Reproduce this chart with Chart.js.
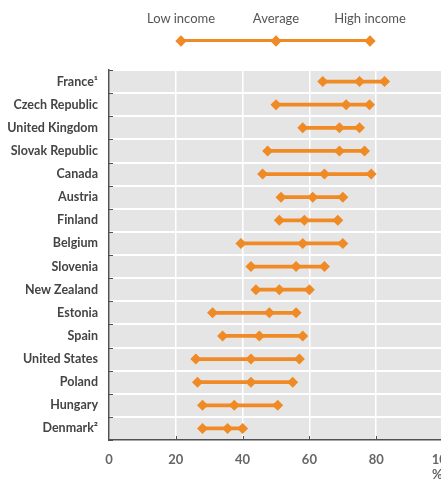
<!DOCTYPE html>
<html>
<head>
<meta charset="utf-8">
<script src="https://cdn.jsdelivr.net/npm/chart.js@4"></script>
<style>
  html, body { margin: 0; padding: 0; background: #fff; overflow: hidden; width: 441px; height: 481px; }
  #wrap { position: absolute; left: 0; top: 0; width: 470px; height: 481px; }
  .key { position: absolute; top: 10px; transform: translateX(-50%); white-space: nowrap;
         font-family: Lato, sans-serif; font-size: 13px; color: #555; }
  #keyline { position: absolute; left: 181px; top: 39px; width: 189px; height: 3px; background: #F08A24; }
  .dia { position: absolute; width: 8px; height: 8px; background: #F08A24; transform: translate(-50%, -50%) rotate(45deg); top: 40.5px; }
  #unit { position: absolute; left: 432px; top: 466px; font-family: Lato, sans-serif; font-size: 13px; font-weight: bold; color: #666; }
</style>
</head>
<body>
<div id="wrap"><canvas id="c"></canvas></div>
<div class="key" style="left:181px">Low income</div>
<div class="key" style="left:276px">Average</div>
<div class="key" style="left:370px">High income</div>
<div id="keyline"></div>
<div class="dia" style="left:181px"></div>
<div class="dia" style="left:276px"></div>
<div class="dia" style="left:370px"></div>
<div id="unit">%</div>
<script>
const countries = ["France\u00B9", "Czech Republic", "United Kingdom", "Slovak Republic", "Canada", "Austria",
  "Finland", "Belgium", "Slovenia", "New Zealand", "Estonia", "Spain", "United States", "Poland",
  "Hungary", "Denmark\u00B2"];
const lowIncome  = [64, 50, 58, 47.5, 46, 51.5, 51, 39.5, 42.5, 44, 31, 34, 26, 26.5, 28, 28];
const average    = [75, 71, 69, 69, 64.5, 61, 58.5, 58, 56, 51, 48, 45, 42.5, 42.5, 37.5, 35.5];
const highIncome = [82.5, 78, 75, 76.5, 78.5, 70, 68.5, 70, 64.5, 60, 56, 58, 57, 55, 50.5, 40];
const xTicks = [0, 20, 40, 60, 80, 100];

const ORANGE = '#F08A24';
const AXIS = '#505050';
const FONT = 'Lato, sans-serif';

// Grey panel behind the plot and short inward tick marks on both axes
const panel = {
  id: 'panel',
  beforeDraw(chart) {
    const { ctx, chartArea: a } = chart;
    ctx.save();
    ctx.fillStyle = '#E5E5E6';
    ctx.fillRect(a.left, a.top, a.right - a.left, a.bottom - a.top);
    ctx.restore();
  },
  afterDatasetsDraw(chart) {
    const { ctx, chartArea: a, scales } = chart;
    ctx.save();
    ctx.strokeStyle = AXIS;
    ctx.lineWidth = 1;
    const y = scales.y;
    const half = (y.getPixelForTick(1) - y.getPixelForTick(0)) / 2;
    ctx.beginPath();
    for (let i = 0; i <= countries.length; i++) {
      const py = Math.round(y.getPixelForTick(0) - half + i * 2 * half) + 0.5;
      ctx.moveTo(a.left, py);
      ctx.lineTo(a.left + 4, py);
    }
    const x = scales.x;
    xTicks.slice(1, -1).forEach(v => {
      const px = Math.round(x.getPixelForValue(v)) + 0.5;
      ctx.moveTo(px, a.bottom);
      ctx.lineTo(px, a.bottom - 4);
    });
    ctx.stroke();
    ctx.restore();
  }
};

const markers = (data) => ({
  type: 'line',
  indexAxis: 'y',
  data: data,
  showLine: false,
  pointStyle: 'rectRot',
  pointRadius: 5.5,
  pointHoverRadius: 5.5,
  pointBackgroundColor: ORANGE,
  pointBorderColor: ORANGE,
  pointBorderWidth: 0
});

new Chart(document.getElementById('c'), {
  type: 'bar',
  data: {
    labels: countries,
    datasets: [
      {
        type: 'bar',
        data: lowIncome.map((l, i) => [l, highIncome[i]]),
        backgroundColor: ORANGE,
        barThickness: 3,
        borderSkipped: false
      },
      markers(lowIncome),
      markers(average),
      markers(highIncome)
    ]
  },
  options: {
    indexAxis: 'y',
    responsive: true,
    maintainAspectRatio: false,
    animation: false,
    events: [],
    layout: { padding: { top: 70, right: 27, left: 0, bottom: 0 } },
    plugins: { legend: { display: false }, tooltip: { enabled: false } },
    scales: {
      x: {
        type: 'linear',
        min: 0,
        max: 100,
        afterBuildTicks(scale) { scale.ticks = xTicks.map(v => ({ value: v })); },
        grid: { color: '#fff', lineWidth: 1.5, drawTicks: false },
        border: { display: true, color: AXIS, width: 1.5 },
        ticks: { padding: 12, color: '#666', font: { family: FONT, size: 13, weight: 'bold' } },
        afterFit(scale) { scale.height = 41; }
      },
      y: {
        type: 'category',
        offset: true,
        grid: { color: '#fff', lineWidth: 2, drawTicks: false, offset: true },
        border: { display: true, color: AXIS, width: 1.5 },
        ticks: { padding: 11, color: '#444', font: { family: FONT, size: 12.5, weight: 'bold' } },
        afterFit(scale) { scale.width = 109; }
      }
    }
  },
  plugins: [panel]
});
</script>
</body>
</html>
